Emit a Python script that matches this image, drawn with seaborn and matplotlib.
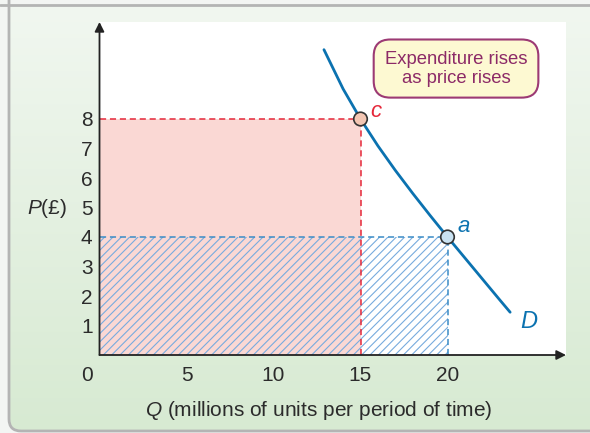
# expenditure rises as price rises (inelastic section of a demand curve)

import matplotlib.pyplot as plt
from matplotlib.patches import FancyBboxPatch
import seaborn as sns
import numpy as np

# demand curve D
demand_q = [12.9, 14.0, 15.0, 16.0, 17.0, 18.0, 19.0, 20.0, 21.0, 22.0, 23.0, 23.6]
demand_p = [10.35, 9.02, 8.0, 7.09, 6.26, 5.48, 4.73, 4.0, 3.29, 2.58, 1.87, 1.45]

# the two marked points
point_q = [15, 20]
point_p = [8, 4]
point_labels = ['c', 'a']

x_ticks = [5, 10, 15, 20]
y_ticks = [1, 2, 3, 4, 5, 6, 7, 8]

BLUE = '#0b72b0'
RED = '#e5283a'
TXT = '#2b2b2b'

sns.set_theme(style='white')
plt.rcParams['font.family'] = ['Liberation Sans', 'DejaVu Sans']
plt.rcParams['mathtext.fontset'] = 'custom'
plt.rcParams['mathtext.it'] = 'Liberation Sans:italic'
plt.rcParams['mathtext.rm'] = 'Liberation Sans'
plt.rcParams['hatch.linewidth'] = 0.8

W, H = 590, 433
fig = plt.figure(figsize=(W / 100, H / 100), dpi=100, facecolor='#f3f5f3')

# background panel with soft green gradient and rounded border
bg = fig.add_axes([0, 0, 1, 1])
bg.set_xlim(0, W)
bg.set_ylim(H, 0)
bg.axis('off')
grad = np.linspace(0, 1, 256).reshape(-1, 1)
top = np.array([0xf1, 0xf7, 0xf0]) / 255
bot = np.array([0xd7, 0xea, 0xd2]) / 255
img = top + grad[..., None] * (bot - top)
im = bg.imshow(img, extent=[9, 620, 431, 5], aspect='auto', zorder=0)
panel = FancyBboxPatch((9, -30), 620, 461, boxstyle='round,pad=0,rounding_size=12',
                       fc='none', ec='#b4b4b4', lw=2, zorder=1)
bg.add_patch(panel)
im.set_clip_path(panel)
bg.plot([0, W], [5, 5], color='#b4b4b4', lw=2, zorder=2)

# main chart area
x0, x1, y0, y1 = 99.5, 566, 355, 22
ax = fig.add_axes([x0 / W, (H - y0) / H, (x1 - x0) / W, (y0 - y1) / H])
ax.set_facecolor('white')
xmax = (x1 - x0) / 17.4
ymax = (y0 - y1) / 29.5
ax.set_xlim(0, xmax)
ax.set_ylim(0, ymax)
for s in ax.spines.values():
    s.set_visible(False)

# expenditure areas
ax.bar([0], [point_p[0]], width=point_q[0], align='edge', color='#fad8d4', lw=0, zorder=1)
ax.bar([0], [point_p[1]], width=point_q[1], align='edge', fill=False, hatch='////',
       edgecolor='#78abde', lw=0, zorder=2)

# dashed guide lines
dash = (0, (4, 2.5))
ax.hlines(point_p[0], 0, point_q[0], colors=RED, linestyles=dash, lw=1.1, zorder=3)
ax.vlines(point_q[0], 0, point_p[0], colors=RED, linestyles=dash, lw=1.1, zorder=3)
ax.hlines(point_p[1], 0, point_q[1], colors='#3a8cc6', linestyles=dash, lw=1.1, zorder=3)
ax.vlines(point_q[1], 0, point_p[1], colors='#3a8cc6', linestyles=dash, lw=1.1, zorder=3)

# demand curve
sns.lineplot(x=demand_q, y=demand_p, ax=ax, color=BLUE, lw=2, sort=False, zorder=4)

sns.scatterplot(x=point_q, y=point_p, hue=point_labels, ax=ax,
                palette={'c': '#f3c6b3', 'a': '#c9e2f2'}, legend=False,
                s=95, edgecolor='#333333', linewidth=1.2, zorder=5)

ax.text(15.55, 8.25, 'c', color=RED, fontsize=16, style='italic', ha='left', va='center')
ax.text(20.55, 4.35, 'a', color=BLUE, fontsize=16, style='italic', ha='left', va='center')
ax.text(24.2, 1.15, 'D', color=BLUE, fontsize=17, style='italic', ha='left', va='center')

# axes arrows
for tip in [(xmax, 0), (0, ymax)]:
    ax.annotate('', xy=tip, xytext=(0, 0), annotation_clip=False,
                arrowprops=dict(arrowstyle='-|>', color='#222222', lw=1.3, mutation_scale=14,
                                shrinkA=0, shrinkB=0))

ax.set_xticks(x_ticks)
ax.set_yticks(y_ticks)
ax.set_xticklabels([str(v) for v in x_ticks])
ax.set_yticklabels([str(v) for v in y_ticks])
ax.tick_params(axis='x', length=0, pad=8, labelsize=15, labelcolor=TXT)
ax.tick_params(axis='y', length=0, pad=5, labelsize=15, labelcolor=TXT)
ax.text(-0.72, -0.68, '0', fontsize=15, color=TXT, ha='center', va='center')

ax.text(-1.85, 4.95, r'$P$(£)', fontsize=15, color=TXT, ha='right', va='center')
ax.text(12.6, -1.88, r'$Q$ (millions of units per period of time)', fontsize=15,
        color=TXT, ha='center', va='center')

# callout box
ax.text(20.49, 9.71, 'Expenditure rises\nas price rises', fontsize=13.3, color='#8c2a67',
        ha='center', va='center', linespacing=1.15,
        bbox=dict(boxstyle='round,pad=0.6,rounding_size=0.9', fc='#fdf9d2', ec='#9c3a74', lw=1.5))

fig.savefig('out.png', dpi=100)
